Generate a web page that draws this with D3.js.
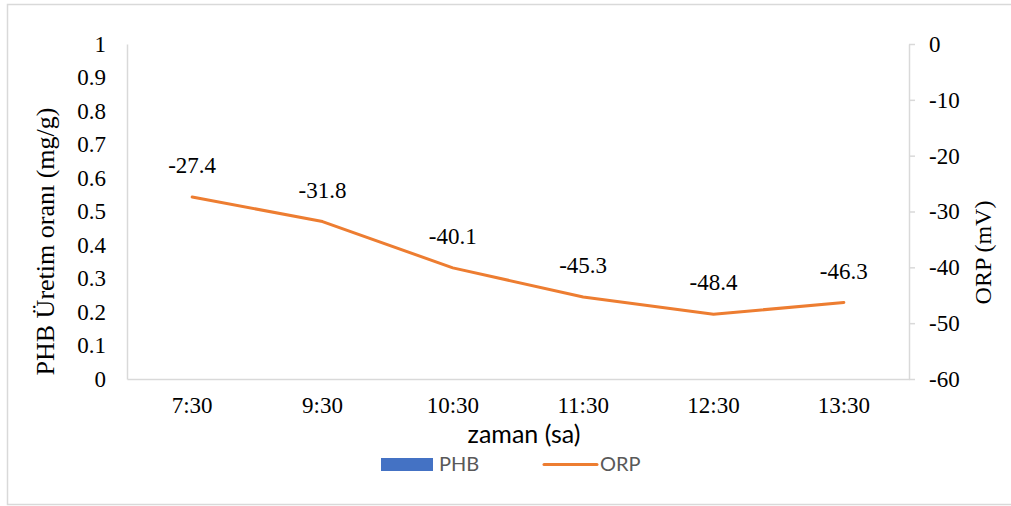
<!DOCTYPE html>
<html>
<head>
<meta charset="utf-8">
<script src="https://cdn.jsdelivr.net/npm/d3@7"></script>
<style>
  html, body { margin: 0; padding: 0; background: #fff; }
  svg { display: block; }
  .serif { font-family: "Liberation Serif", "Times New Roman", serif; }
  .sans { font-family: "Lato", "Open Sans", sans-serif; }
</style>
</head>
<body>
<svg id="chart" width="1011" height="506"></svg>
<script>
// Sampling times (hours) and measured values
const times = ["7:30", "9:30", "10:30", "11:30", "12:30", "13:30"];
const orpValues = [-27.4, -31.8, -40.1, -45.3, -48.4, -46.3];
const phbTicks = [0, 0.1, 0.2, 0.3, 0.4, 0.5, 0.6, 0.7, 0.8, 0.9, 1];
const orpTicks = [0, -10, -20, -30, -40, -50, -60];

const axisGrey = "#d9d9d9";
const orange = "#ED7D31";
const blue = "#4472C4";
const fs = 23;

const svg = d3.select("#chart");

// outer chart frame
svg.append("rect")
  .attr("x", 7.5).attr("y", 4.5)
  .attr("width", 1010).attr("height", 500)
  .attr("fill", "#fff")
  .attr("stroke", axisGrey).attr("stroke-width", 1.5);

const plot = { left: 127, right: 909, top: 44, bottom: 379 };

const x = d3.scaleBand().domain(times).range([plot.left, plot.right]);
const yLeft = d3.scaleLinear().domain([0, 1]).range([plot.bottom, plot.top]);
const yRight = d3.scaleLinear().domain([-60, 0]).range([plot.bottom, plot.top]);

function styleTicks(g) {
  g.attr("font-family", null).attr("font-size", null);
  g.select(".domain").attr("stroke", axisGrey).attr("stroke-width", 1.5);
  g.selectAll(".tick line").attr("stroke", axisGrey).attr("stroke-width", 1.5);
  g.selectAll("text")
    .attr("class", "serif")
    .style("font-size", fs + "px")
    .attr("fill", "#000");
}

// left axis (PHB)
svg.append("g").attr("transform", `translate(${plot.left},0)`)
  .call(d3.axisLeft(yLeft).tickValues(phbTicks).tickSize(0).tickPadding(21)
    .tickFormat(d => String(+d.toFixed(1))))
  .call(styleTicks);

// right axis (ORP)
svg.append("g").attr("transform", `translate(${plot.right},0)`)
  .call(d3.axisRight(yRight).tickValues(orpTicks).tickSizeInner(6).tickSizeOuter(0)
    .tickPadding(14).tickFormat(d => String(d)))
  .call(styleTicks);

// bottom axis (time)
svg.append("g").attr("transform", `translate(0,${plot.bottom})`)
  .call(d3.axisBottom(x).tickSize(0).tickPadding(18))
  .call(styleTicks);

// ORP line
const line = d3.line()
  .x((d, i) => x(times[i]) + x.bandwidth() / 2)
  .y(d => yRight(d));
svg.append("path")
  .datum(orpValues)
  .attr("d", line)
  .attr("fill", "none")
  .attr("stroke", orange)
  .attr("stroke-width", 3)
  .attr("stroke-linejoin", "round")
  .attr("stroke-linecap", "round");

// data labels
svg.append("g").selectAll("text")
  .data(orpValues)
  .join("text")
  .attr("class", "serif")
  .attr("x", (d, i) => x(times[i]) + x.bandwidth() / 2)
  .attr("y", d => yRight(d) - 24)
  .attr("text-anchor", "middle")
  .style("font-size", fs + "px")
  .attr("fill", "#000")
  .text(d => d.toFixed(1));

// axis titles
svg.append("text")
  .attr("class", "serif")
  .attr("transform", `translate(54,${(plot.top + plot.bottom) / 2 + 30}) rotate(-90)`)
  .attr("text-anchor", "middle")
  .style("font-size", "26px").attr("fill", "#000")
  .text("PHB Üretim oranı (mg/g)");

svg.append("text")
  .attr("class", "serif")
  .attr("transform", `translate(991,${(plot.top + plot.bottom) / 2 + 41}) rotate(-90)`)
  .attr("text-anchor", "middle")
  .style("font-size", "24px").attr("fill", "#000")
  .text("ORP (mV)");

svg.append("text")
  .attr("class", "sans")
  .attr("x", 524).attr("y", 443)
  .attr("text-anchor", "middle")
  .style("font-size", "25px").attr("fill", "#000")
  .text("zaman (sa)");

// legend
const legend = svg.append("g");
legend.append("rect")
  .attr("x", 381).attr("y", 458).attr("width", 52).attr("height", 13)
  .attr("fill", blue);
legend.append("text")
  .attr("class", "sans")
  .attr("x", 439).attr("y", 471)
  .style("font-size", "20px").attr("fill", "#595959")
  .text("PHB");
legend.append("line")
  .attr("x1", 544).attr("x2", 597).attr("y1", 464.5).attr("y2", 464.5)
  .attr("stroke", orange).attr("stroke-width", 3).attr("stroke-linecap", "round");
legend.append("text")
  .attr("class", "sans")
  .attr("x", 600).attr("y", 471)
  .style("font-size", "20px").attr("fill", "#595959")
  .text("ORP");
</script>
</body>
</html>
